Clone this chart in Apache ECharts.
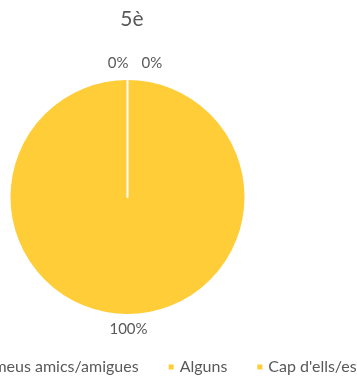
<!DOCTYPE html>
<html>
<head>
<meta charset="utf-8">
<script src="https://cdn.jsdelivr.net/npm/echarts@6/dist/echarts.min.js"></script>
<style>
  html, body { margin: 0; padding: 0; background: #fff; }
  #chart { width: 357px; height: 383px; }
</style>
</head>
<body>
<div id="chart"></div>
<script>
// Share of friends, 5è
const chartTitle = '5è';
const categories = ['Tots els meus amics/amigues', 'Alguns', "Cap d'ells/es"];
const values = [0, 100, 0];
const colors = ['#FFCD38', '#FFCD38', '#FFCD38'];

const FONT = 'Lato, "Open Sans", sans-serif';
const TEXT = '#595959';

const chart = echarts.init(document.getElementById('chart'), null, { renderer: 'canvas' });

chart.setOption({
  animation: false,
  title: {
    text: chartTitle,
    left: 127,
    textAlign: 'center',
    top: 4,
    textStyle: { fontFamily: FONT, fontSize: 21, fontWeight: 'normal', color: TEXT }
  },
  legend: {
    data: categories,
    bottom: 3,
    left: -81,
    width: 700,
    icon: 'rect',
    itemWidth: 7,
    itemHeight: 7,
    itemGap: 28,
    textStyle: { fontFamily: FONT, fontSize: 16, color: TEXT }
  },
  series: [{
    type: 'pie',
    center: [127.5, 197],
    radius: 118,
    startAngle: 90,
    clockwise: true,
    avoidLabelOverlap: false,
    minAngle: 0,
    itemStyle: { borderColor: '#ffffff', borderWidth: 2 },
    label: {
      show: true,
      position: 'outside',
      formatter: '{d}%',
      fontFamily: FONT,
      fontSize: 15,
      color: TEXT
    },
    labelLine: { show: false, length: 4, length2: 0 },
    labelLayout: function (p) {
      if (p.dataIndex === 0) return { dx: 6, dy: -12 };
      if (p.dataIndex === 2) return { dx: 9, dy: -12 };
      return { align: 'center', dx: 6, dy: 10 };
    },
    emphasis: { disabled: true },
    data: categories.map((name, i) => ({
      name: name,
      value: values[i],
      itemStyle: { color: colors[i] }
    }))
  }]
});
</script>
</body>
</html>
